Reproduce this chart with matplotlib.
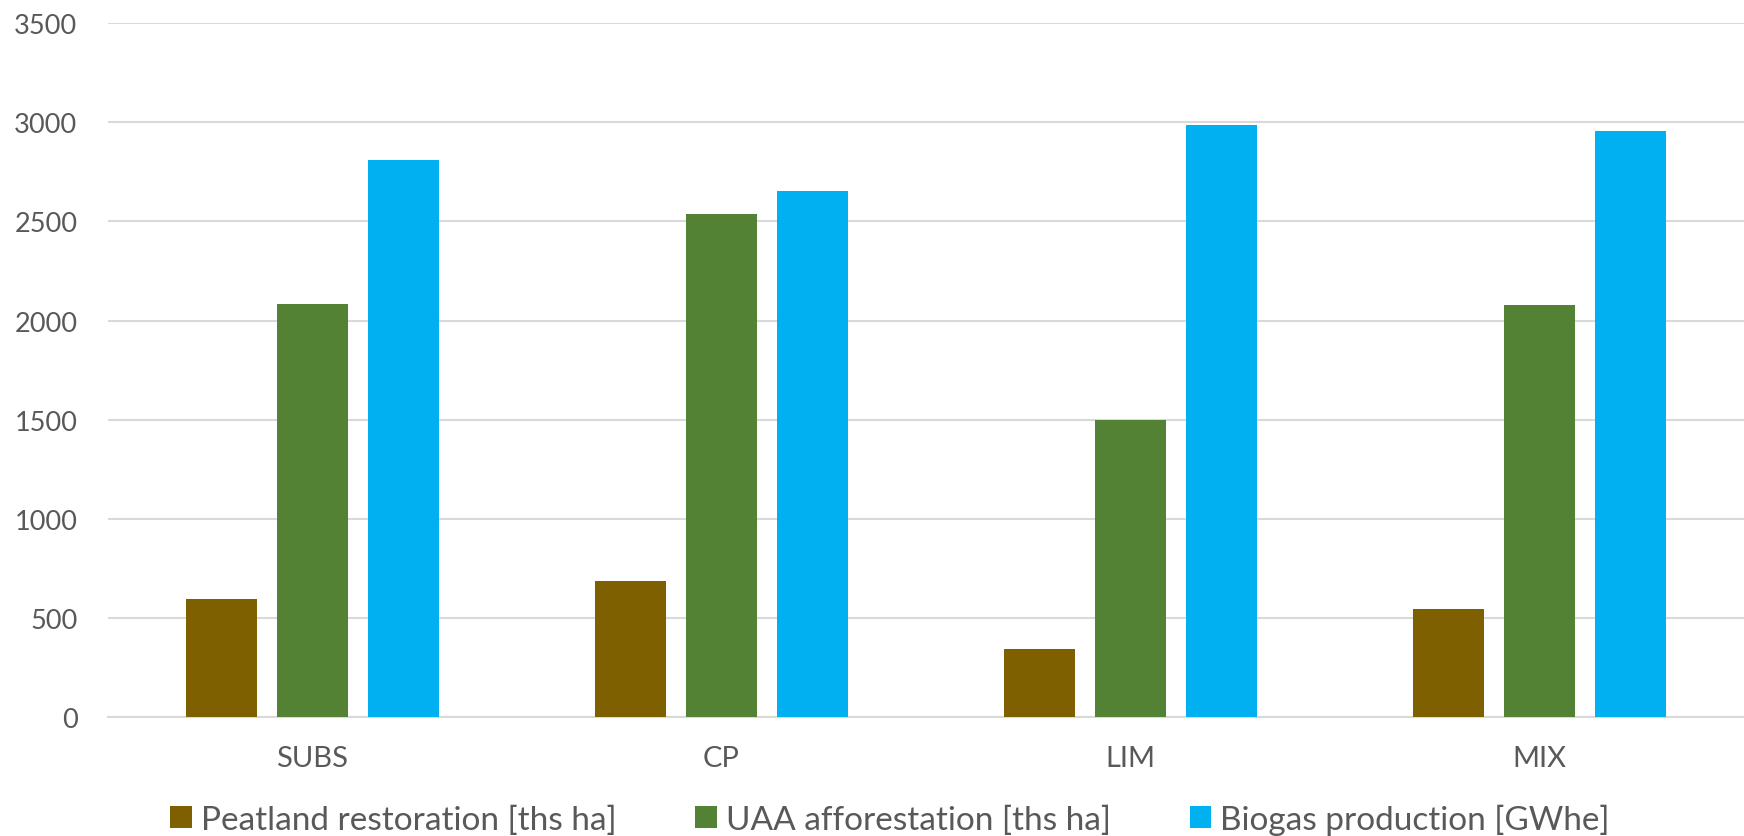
import matplotlib
matplotlib.use('Agg')
import matplotlib.pyplot as plt
import numpy as np

plt.rcParams['font.family'] = ['Lato', 'DejaVu Sans']

scenarios = ['SUBS', 'CP', 'LIM', 'MIX']
peatland = [595, 690, 347, 549]
uaa = [2085, 2537, 1501, 2080]
biogas = [2810, 2655, 2987, 2958]

labels = ['Peatland restoration [ths ha]', 'UAA afforestation [ths ha]',
          'Biogas production [GWhe]']
colors = ['#7f6000', '#548235', '#00b0f0']

x = np.arange(len(scenarios))
width = 0.174
step = 0.223

fig = plt.figure(figsize=(17.44, 8.37), dpi=100)
ax = fig.add_axes([0.0619, 0.1416, 0.938, 0.8297])

for i, (vals, lab, col) in enumerate(zip([peatland, uaa, biogas], labels, colors)):
    ax.bar(x + (i - 1) * step, vals, width, color=col, label=lab, zorder=3)

ax.set_xlim(-0.5, 3.5)
ax.set_ylim(0, 3500)
ax.set_yticks(np.arange(0, 3501, 500))
ax.set_xticks(x)
ax.set_xticklabels(scenarios)
ax.grid(axis='y', color='#d9d9d9', linewidth=1.5, zorder=0)
for s in ['top', 'right', 'left']:
    ax.spines[s].set_visible(False)
ax.spines['bottom'].set_color('#d9d9d9')
ax.spines['bottom'].set_linewidth(1.5)
ax.tick_params(axis='both', length=0, colors='#595959')
ax.tick_params(axis='y', pad=22, labelsize=19.5)
ax.tick_params(axis='x', pad=20, labelsize=21)

fig.legend(loc='center', bbox_to_anchor=(890 / 1744, 1 - 820 / 837), ncol=3,
           frameon=False, fontsize=24, handlelength=0.64, handleheight=0.64,
           handletextpad=0.28, columnspacing=2.36, labelcolor='#595959')

fig.savefig('out.png', dpi=100)
